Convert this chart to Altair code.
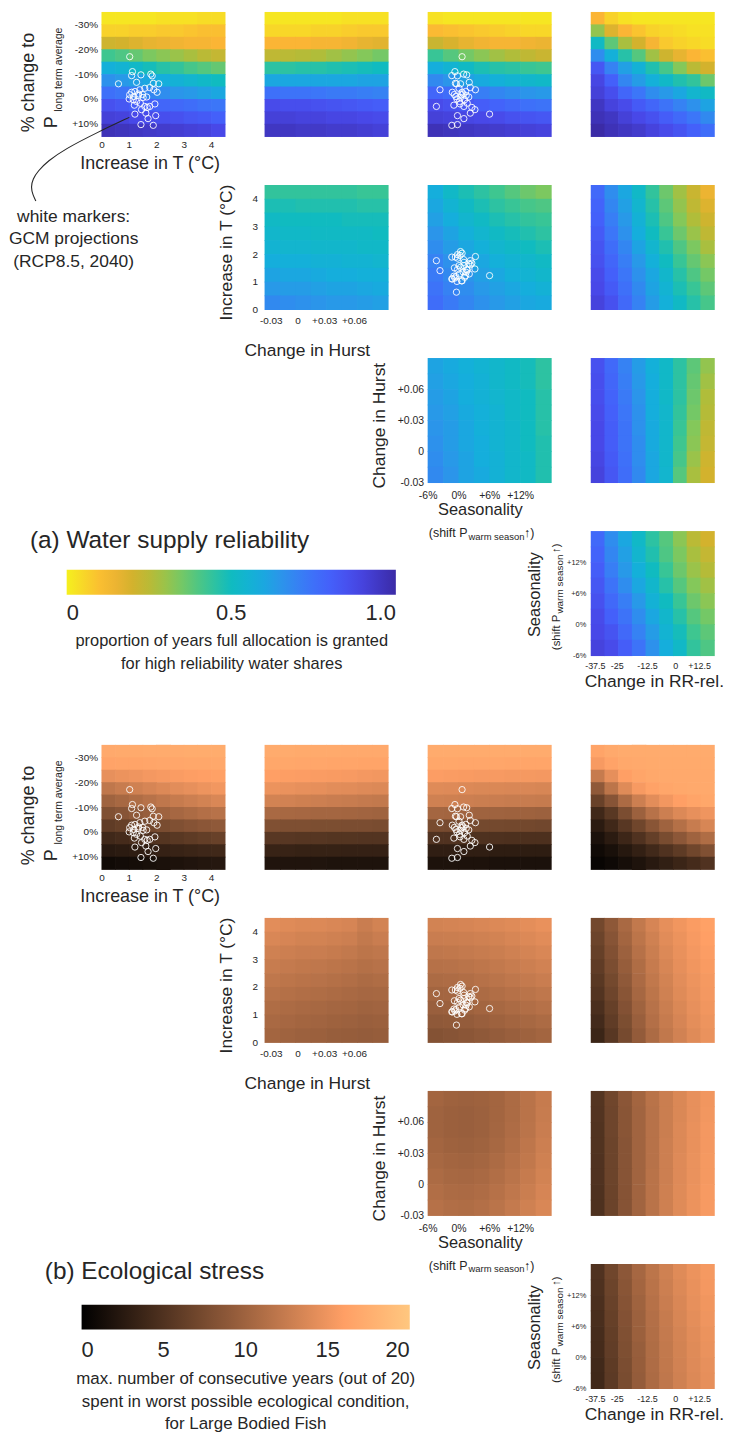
import json
import altair as alt
import pandas as pd

FONT = "Liberation Sans"
INK = "#262626"

# ---------------- axes / categories ----------------
T_EDGES = [0, 0.5, 1, 1.5, 2, 2.5, 3, 3.5, 4, 4.5]
T_EDGES_DOWN = [4.5, 4, 3.5, 3, 2.5, 2, 1.5, 1, 0.5, 0]
P_EDGES = [-35, -30, -25, -20, -15, -10, -5, 0, 5, 10, 15]
H_EDGES = [-0.03, -0.015, 0, 0.015, 0.03, 0.045, 0.06, 0.075, 0.09]
H_EDGES_DOWN = [0.09, 0.075, 0.06, 0.045, 0.03, 0.015, 0, -0.015, -0.03]
S_EDGES = [-6, -3, 0, 3, 6, 9, 12, 15, 18]
S_EDGES_DOWN = [18, 15, 12, 9, 6, 3, 0, -3, -6]
RR_EDGES = [0, 1, 2, 3, 4, 5, 6, 7, 8, 9]

T_TICKS = [0, 1, 2, 3, 4]
P_TICKS = [-30, -20, -10, 0, 10]
P_TICK_LABELS = ["-30%", "-20%", "-10%", "0%", "+10%"]
H_TICKS = [-0.03, 0, 0.03, 0.06]
H_TICKS_X = [-0.024, 0.002, 0.028, 0.057]
H_TICK_LABELS = ["-0.03", "0", "+0.03", "+0.06"]
S_TICKS = [-6, 0, 6, 12]
S_TICK_LABELS = ["-6%", "0%", "+6%", "+12%"]
RR_TICK_POS = [0.3, 1.9, 4.1, 6.17, 7.91]
RR_TICK_LABELS = ["-37.5", "-25", "-12.5", "0", "+12.5"]

# ---------------- colour maps ----------------
REL_STOPS = [0, 0.04, 0.12, 0.2, 0.27, 0.33, 0.42, 0.5, 0.58, 0.65, 0.73, 0.8, 0.88, 1.0]
REL_COLORS = ["#F5F01E", "#F7DC26", "#FBB535", "#D3B22D", "#B0BD3A", "#84C85A", "#3EC690",
              "#10BBC0", "#15AEDC", "#2B95EA", "#3C76F8", "#4460FA", "#4848E8", "#3B2BA6"]
ECO_STOPS = [0, 16, 20]
ECO_COLORS = ["#000000", "#FF9F65", "#FFC77F"]

# ---------------- GCM projections ----------------
GCM_T = [1.03, 1.13, 1.10, 1.44, 1.85, 1.80, 0.62, 1.28, 1.89, 2.09, 1.10, 1.22, 1.40, 1.58, 1.76,
         1.91, 2.03, 1.03, 1.18, 1.34, 1.52, 1.01, 1.16, 1.28, 1.42, 1.58, 1.67, 1.76, 1.46, 1.62,
         1.22, 1.98, 1.70, 1.44, 1.89, 1.35, 1.50, 1.65, 1.95, 1.20]
GCM_P = [-17, -11, -9.4, -9.7, -9.3, -10, -6.1, -6.7, -6.3, -6.1, -2.7, -3.0, -3.7, -4.3, -4.6,
         -3.7, -2.7, -1.7, -1.0, -1.4, -0.6, 0.0, 0.3, 1.0, 1.7, 3.0, 3.4, 3.0, 4.3, 5.7,
         6.1, 6.7, 7.9, 10.3, 10.6, -2.0, -1.8, -0.8, 2.0, 2.5]
GCM_S = [0.7, -0.7, -1.3, 1.6, -0.2, 1.0, -0.4, 2.1, -0.6, 0.4, -1.2, 1.4, -3.6, 0.1, 2.3,
         3.3, 0.7, 0.6, -0.5, 1.5, 0.4, -0.3, 1.2, 0.2, 1.7, 1.05, 2.6, -4.3, 3.2, 2.3,
         6.05, -0.2, 1.05, -0.2, -1.3, 0.9, -0.8, 2.0, 0.3, -0.9]

# leader line from the annotation to the markers (in T / P units of the first panel)
LEADER_T = [1.016, -0.145, -1.343, -1.959, -2.322, -2.504, -2.576, -2.504, -2.395]
LEADER_P = [7.4, 13.4, 20.2, 25.0, 29.0, 32.2, 35.4, 38.6, 41.0]

# ---------------- (a) water supply reliability grids (rows top -> bottom) ----------------
A_TP = [
    [0.02, 0.02, 0.02, 0.02, 0.03, 0.03, 0.03, 0.04, 0.04],
    [0.06, 0.06, 0.07, 0.07, 0.08, 0.08, 0.09, 0.10, 0.10],
    [0.21, 0.20, 0.18, 0.16, 0.15, 0.14, 0.13, 0.13, 0.12],
    [0.42, 0.40, 0.37, 0.34, 0.32, 0.30, 0.28, 0.25, 0.23],
    [0.57, 0.55, 0.52, 0.49, 0.46, 0.44, 0.41, 0.39, 0.37],
    [0.66, 0.64, 0.62, 0.60, 0.58, 0.56, 0.54, 0.52, 0.50],
    [0.75, 0.73, 0.71, 0.69, 0.67, 0.65, 0.64, 0.62, 0.60],
    [0.85, 0.83, 0.81, 0.80, 0.78, 0.77, 0.76, 0.74, 0.73],
    [0.91, 0.90, 0.88, 0.87, 0.86, 0.85, 0.83, 0.82, 0.80],
    [0.97, 0.96, 0.95, 0.94, 0.93, 0.92, 0.91, 0.90, 0.88],
]
A_HP = [
    [0.02, 0.02, 0.02, 0.02, 0.02, 0.03, 0.03, 0.03],
    [0.05, 0.05, 0.05, 0.06, 0.06, 0.07, 0.08, 0.08],
    [0.12, 0.12, 0.12, 0.13, 0.13, 0.14, 0.16, 0.17],
    [0.24, 0.25, 0.26, 0.27, 0.29, 0.31, 0.33, 0.35],
    [0.45, 0.45, 0.46, 0.46, 0.47, 0.48, 0.49, 0.50],
    [0.60, 0.60, 0.60, 0.60, 0.60, 0.60, 0.61, 0.61],
    [0.75, 0.74, 0.74, 0.73, 0.72, 0.72, 0.71, 0.70],
    [0.87, 0.86, 0.86, 0.85, 0.84, 0.83, 0.82, 0.81],
    [0.91, 0.91, 0.90, 0.90, 0.89, 0.89, 0.88, 0.87],
    [0.95, 0.95, 0.94, 0.94, 0.93, 0.93, 0.92, 0.91],
]
A_SP = [
    [0.03, 0.02, 0.02, 0.02, 0.02, 0.02, 0.02, 0.02],
    [0.11, 0.10, 0.09, 0.08, 0.07, 0.06, 0.05, 0.05],
    [0.22, 0.19, 0.16, 0.14, 0.13, 0.13, 0.14, 0.15],
    [0.43, 0.39, 0.35, 0.32, 0.29, 0.27, 0.24, 0.22],
    [0.58, 0.55, 0.51, 0.48, 0.46, 0.45, 0.43, 0.42],
    [0.68, 0.65, 0.62, 0.59, 0.57, 0.55, 0.53, 0.52],
    [0.78, 0.76, 0.73, 0.71, 0.69, 0.67, 0.65, 0.64],
    [0.87, 0.85, 0.83, 0.81, 0.79, 0.77, 0.75, 0.74],
    [0.91, 0.90, 0.89, 0.88, 0.87, 0.85, 0.84, 0.83],
    [0.97, 0.96, 0.95, 0.94, 0.93, 0.92, 0.91, 0.90],
]
A_RP = [
    [0.12, 0.06, 0.03, 0.02, 0.02, 0.02, 0.02, 0.02, 0.02],
    [0.31, 0.18, 0.12, 0.09, 0.06, 0.05, 0.04, 0.03, 0.03],
    [0.51, 0.38, 0.28, 0.20, 0.13, 0.08, 0.06, 0.05, 0.04],
    [0.67, 0.57, 0.46, 0.39, 0.29, 0.21, 0.16, 0.12, 0.10],
    [0.83, 0.70, 0.62, 0.56, 0.47, 0.41, 0.33, 0.25, 0.20],
    [0.89, 0.80, 0.69, 0.63, 0.57, 0.52, 0.47, 0.44, 0.36],
    [0.91, 0.86, 0.78, 0.73, 0.67, 0.64, 0.60, 0.54, 0.51],
    [0.95, 0.90, 0.87, 0.82, 0.78, 0.74, 0.70, 0.66, 0.61],
    [0.97, 0.95, 0.91, 0.88, 0.85, 0.81, 0.77, 0.73, 0.68],
    [1.00, 0.97, 0.95, 0.93, 0.90, 0.87, 0.84, 0.80, 0.76],
]
A_HT = [
    [0.44, 0.44, 0.44, 0.44, 0.44, 0.44, 0.43, 0.43],
    [0.48, 0.48, 0.47, 0.47, 0.47, 0.47, 0.46, 0.46],
    [0.51, 0.50, 0.50, 0.50, 0.50, 0.49, 0.49, 0.49],
    [0.53, 0.52, 0.52, 0.51, 0.51, 0.51, 0.51, 0.50],
    [0.55, 0.54, 0.54, 0.53, 0.53, 0.53, 0.52, 0.52],
    [0.58, 0.57, 0.57, 0.56, 0.56, 0.55, 0.55, 0.54],
    [0.61, 0.60, 0.60, 0.59, 0.58, 0.58, 0.57, 0.57],
    [0.64, 0.63, 0.63, 0.62, 0.61, 0.61, 0.60, 0.59],
    [0.68, 0.67, 0.66, 0.65, 0.64, 0.64, 0.63, 0.62],
]
A_ST = [
    [0.58, 0.52, 0.48, 0.45, 0.42, 0.39, 0.36, 0.34],
    [0.60, 0.55, 0.51, 0.48, 0.45, 0.43, 0.41, 0.40],
    [0.62, 0.58, 0.54, 0.51, 0.48, 0.46, 0.44, 0.43],
    [0.65, 0.61, 0.57, 0.54, 0.51, 0.49, 0.47, 0.45],
    [0.67, 0.63, 0.60, 0.57, 0.54, 0.52, 0.50, 0.48],
    [0.70, 0.66, 0.63, 0.60, 0.57, 0.55, 0.53, 0.51],
    [0.72, 0.68, 0.65, 0.62, 0.60, 0.57, 0.55, 0.53],
    [0.74, 0.70, 0.67, 0.64, 0.62, 0.60, 0.58, 0.56],
    [0.76, 0.72, 0.69, 0.66, 0.64, 0.62, 0.60, 0.59],
]
A_RT = [
    [0.77, 0.67, 0.60, 0.52, 0.44, 0.36, 0.29, 0.22, 0.15],
    [0.79, 0.69, 0.62, 0.54, 0.46, 0.38, 0.31, 0.24, 0.18],
    [0.80, 0.71, 0.64, 0.56, 0.48, 0.40, 0.33, 0.27, 0.21],
    [0.82, 0.73, 0.66, 0.58, 0.50, 0.43, 0.36, 0.30, 0.24],
    [0.84, 0.76, 0.69, 0.61, 0.54, 0.47, 0.40, 0.34, 0.28],
    [0.85, 0.78, 0.71, 0.64, 0.57, 0.50, 0.43, 0.37, 0.32],
    [0.87, 0.80, 0.73, 0.66, 0.60, 0.53, 0.46, 0.40, 0.35],
    [0.88, 0.82, 0.75, 0.68, 0.61, 0.55, 0.48, 0.43, 0.38],
    [0.90, 0.85, 0.77, 0.70, 0.63, 0.57, 0.51, 0.46, 0.41],
]
A_SH = [
    [0.61, 0.59, 0.57, 0.55, 0.53, 0.51, 0.49, 0.45],
    [0.62, 0.60, 0.58, 0.56, 0.53, 0.51, 0.49, 0.45],
    [0.63, 0.61, 0.58, 0.56, 0.54, 0.52, 0.50, 0.46],
    [0.64, 0.62, 0.59, 0.57, 0.55, 0.52, 0.50, 0.46],
    [0.65, 0.63, 0.60, 0.57, 0.55, 0.53, 0.50, 0.46],
    [0.66, 0.63, 0.60, 0.58, 0.55, 0.53, 0.50, 0.47],
    [0.67, 0.64, 0.61, 0.58, 0.56, 0.53, 0.51, 0.47],
    [0.68, 0.65, 0.61, 0.59, 0.56, 0.53, 0.51, 0.47],
]
A_RH = [
    [0.85, 0.77, 0.70, 0.63, 0.57, 0.52, 0.45, 0.38, 0.31],
    [0.86, 0.78, 0.71, 0.64, 0.58, 0.52, 0.45, 0.37, 0.29],
    [0.86, 0.79, 0.72, 0.65, 0.58, 0.52, 0.45, 0.36, 0.27],
    [0.87, 0.80, 0.73, 0.66, 0.58, 0.53, 0.44, 0.35, 0.26],
    [0.88, 0.81, 0.74, 0.66, 0.59, 0.53, 0.43, 0.33, 0.24],
    [0.88, 0.81, 0.74, 0.67, 0.59, 0.53, 0.42, 0.32, 0.23],
    [0.89, 0.82, 0.75, 0.67, 0.60, 0.53, 0.41, 0.30, 0.21],
    [0.90, 0.83, 0.76, 0.68, 0.60, 0.54, 0.39, 0.28, 0.20],
]
A_RS = [
    [0.77, 0.67, 0.60, 0.52, 0.45, 0.39, 0.32, 0.25, 0.20],
    [0.79, 0.69, 0.62, 0.54, 0.47, 0.40, 0.34, 0.28, 0.23],
    [0.81, 0.71, 0.64, 0.57, 0.50, 0.43, 0.36, 0.30, 0.26],
    [0.83, 0.74, 0.67, 0.60, 0.53, 0.46, 0.39, 0.33, 0.29],
    [0.85, 0.77, 0.71, 0.64, 0.56, 0.50, 0.43, 0.36, 0.32],
    [0.87, 0.80, 0.74, 0.67, 0.60, 0.53, 0.46, 0.39, 0.35],
    [0.88, 0.84, 0.77, 0.70, 0.63, 0.55, 0.49, 0.42, 0.38],
    [0.90, 0.87, 0.81, 0.74, 0.66, 0.58, 0.52, 0.44, 0.40],
]

# ---------------- (b) ecological stress grids ----------------
B_TP = [
    [17.0, 17.1, 17.1, 17.2, 17.2, 17.2, 17.3, 17.3, 17.3],
    [16.4, 16.5, 16.5, 16.6, 16.7, 16.7, 16.8, 16.8, 16.9],
    [14.5, 14.8, 15.0, 15.3, 15.5, 15.7, 15.9, 16.0, 16.2],
    [12.0, 12.5, 13.0, 13.4, 13.8, 14.2, 14.5, 14.9, 15.2],
    [10.0, 10.5, 11.0, 11.5, 12.0, 12.4, 12.8, 13.2, 13.6],
    [8.0, 8.5, 9.0, 9.5, 10.0, 10.4, 10.8, 11.2, 11.5],
    [6.0, 6.4, 6.8, 7.2, 7.6, 8.0, 8.4, 8.7, 9.0],
    [4.0, 4.3, 4.6, 5.0, 5.3, 5.6, 5.9, 6.2, 6.5],
    [2.5, 2.7, 2.9, 3.1, 3.3, 3.5, 3.7, 3.9, 4.0],
    [1.0, 1.2, 1.3, 1.5, 1.7, 1.8, 2.0, 2.2, 2.3],
]
B_HP = [
    [17.2, 17.2, 17.1, 17.1, 17.1, 17.0, 17.0, 17.0],
    [16.8, 16.8, 16.7, 16.7, 16.6, 16.6, 16.5, 16.5],
    [16.0, 15.9, 15.8, 15.7, 15.6, 15.5, 15.3, 15.2],
    [14.8, 14.7, 14.5, 14.4, 14.2, 14.1, 13.9, 13.8],
    [13.2, 13.1, 12.9, 12.8, 12.6, 12.5, 12.3, 12.2],
    [10.6, 10.5, 10.4, 10.3, 10.3, 10.2, 10.1, 10.0],
    [8.0, 7.9, 7.9, 7.8, 7.8, 7.7, 7.7, 7.6],
    [5.5, 5.5, 5.4, 5.4, 5.3, 5.3, 5.2, 5.2],
    [3.5, 3.5, 3.4, 3.4, 3.4, 3.3, 3.3, 3.3],
    [2.0, 2.0, 2.0, 2.0, 1.9, 1.9, 1.9, 1.9],
]
B_SP = [
    [17.2, 17.2, 17.2, 17.2, 17.2, 17.2, 17.2, 17.2],
    [16.8, 16.8, 16.7, 16.7, 16.7, 16.6, 16.6, 16.6],
    [15.8, 15.7, 15.6, 15.5, 15.5, 15.4, 15.4, 15.3],
    [14.0, 13.9, 13.8, 13.7, 13.7, 13.6, 13.6, 13.5],
    [13.0, 12.9, 12.8, 12.7, 12.6, 12.5, 12.5, 12.4],
    [10.3, 10.2, 10.1, 10.0, 10.0, 9.9, 9.9, 9.8],
    [7.5, 7.4, 7.4, 7.3, 7.3, 7.2, 7.2, 7.1],
    [5.0, 5.0, 4.9, 4.9, 4.9, 4.8, 4.8, 4.8],
    [3.0, 3.0, 3.0, 3.0, 2.9, 2.9, 2.9, 2.9],
    [1.8, 1.8, 1.8, 1.8, 1.7, 1.7, 1.7, 1.7],
]
B_RP = [
    [16.5, 17.0, 17.2, 17.2, 17.2, 17.2, 17.2, 17.2, 17.2],
    [15.5, 16.4, 16.9, 17.0, 17.1, 17.1, 17.1, 17.1, 17.1],
    [12.4, 14.4, 16.0, 16.6, 16.9, 17.0, 17.0, 17.0, 17.0],
    [9.0, 11.8, 14.0, 15.5, 16.3, 16.7, 16.9, 17.0, 17.0],
    [6.5, 8.5, 10.8, 12.8, 14.2, 15.2, 16.0, 16.5, 16.8],
    [4.0, 5.6, 7.7, 9.8, 11.5, 12.8, 13.8, 14.5, 15.0],
    [2.7, 4.0, 5.5, 7.0, 8.6, 10.0, 11.3, 12.5, 13.5],
    [1.7, 2.7, 3.8, 5.0, 6.3, 7.6, 8.8, 10.0, 11.0],
    [1.0, 1.6, 2.4, 3.2, 4.1, 5.0, 5.9, 7.0, 8.0],
    [0.5, 0.9, 1.4, 1.9, 2.5, 3.1, 3.7, 4.3, 5.0],
]
B_HT = [
    [14.2, 14.0, 13.8, 13.8, 13.6, 13.4, 12.6, 13.2],
    [13.6, 13.4, 13.2, 13.2, 13.0, 12.8, 12.2, 12.6],
    [13.0, 12.8, 12.6, 12.6, 12.4, 12.2, 11.8, 12.0],
    [12.5, 12.3, 12.1, 12.0, 11.8, 11.6, 11.3, 11.5],
    [12.0, 11.8, 11.6, 11.5, 11.3, 11.1, 10.8, 11.0],
    [11.5, 11.3, 11.1, 11.0, 10.8, 10.6, 10.4, 10.5],
    [11.0, 10.8, 10.6, 10.5, 10.3, 10.2, 10.0, 10.1],
    [10.6, 10.4, 10.2, 10.1, 9.9, 9.8, 9.6, 9.7],
    [10.2, 10.0, 9.8, 9.7, 9.5, 9.4, 9.3, 9.4],
]
B_ST = [
    [13.2, 13.3, 13.4, 13.6, 13.8, 14.0, 14.3, 14.6],
    [12.6, 12.7, 12.8, 13.0, 13.2, 13.5, 13.8, 14.1],
    [12.0, 12.1, 12.3, 12.5, 12.7, 13.0, 13.3, 13.6],
    [11.4, 11.5, 11.7, 11.9, 12.2, 12.5, 12.8, 13.1],
    [10.8, 10.9, 11.1, 11.4, 11.7, 12.0, 12.3, 12.6],
    [10.2, 10.3, 10.5, 10.8, 11.1, 11.4, 11.7, 12.0],
    [9.6, 9.7, 9.9, 10.2, 10.5, 10.8, 11.1, 11.4],
    [9.0, 9.1, 9.3, 9.6, 9.9, 10.2, 10.5, 10.8],
    [8.3, 8.5, 8.7, 9.0, 9.3, 9.6, 9.9, 10.2],
]
B_RT = [
    [7.2, 8.9, 10.6, 12.2, 13.4, 14.4, 15.1, 15.7, 16.2],
    [6.8, 8.5, 10.2, 11.8, 13.0, 14.1, 14.8, 15.5, 16.0],
    [6.4, 8.1, 9.8, 11.4, 12.7, 13.8, 14.6, 15.3, 15.8],
    [6.0, 7.7, 9.4, 11.0, 12.4, 13.5, 14.4, 15.1, 15.6],
    [5.6, 7.3, 9.0, 10.7, 12.1, 13.2, 14.2, 14.9, 15.4],
    [5.2, 6.9, 8.6, 10.4, 11.8, 13.0, 14.0, 14.7, 15.3],
    [4.7, 6.4, 8.2, 10.0, 11.5, 12.7, 13.7, 14.5, 15.1],
    [4.2, 6.0, 7.8, 9.6, 11.2, 12.4, 13.4, 14.3, 14.9],
    [3.7, 5.5, 7.4, 9.2, 10.8, 12.1, 13.1, 14.0, 14.7],
]
B_SH = [
    [10.2, 9.9, 9.8, 9.9, 10.2, 10.8, 11.6, 12.4],
    [10.0, 9.7, 9.6, 9.8, 10.2, 10.8, 11.6, 12.5],
    [10.0, 9.7, 9.6, 9.8, 10.3, 10.9, 11.7, 12.6],
    [10.2, 9.9, 9.8, 10.0, 10.5, 11.1, 11.9, 12.8],
    [10.5, 10.2, 10.1, 10.3, 10.8, 11.4, 12.1, 13.0],
    [10.8, 10.5, 10.4, 10.6, 11.1, 11.7, 12.4, 13.2],
    [11.1, 10.8, 10.7, 10.9, 11.4, 12.0, 12.7, 13.4],
    [11.4, 11.1, 11.0, 11.2, 11.7, 12.3, 13.0, 13.6],
]
B_RH = [
    [5.3, 7.0, 8.7, 10.2, 11.6, 12.7, 13.7, 14.5, 15.1],
    [5.2, 6.9, 8.6, 10.1, 11.5, 12.7, 13.7, 14.5, 15.2],
    [5.1, 6.9, 8.6, 10.1, 11.5, 12.7, 13.8, 14.6, 15.3],
    [5.1, 6.8, 8.5, 10.1, 11.5, 12.8, 13.8, 14.6, 15.3],
    [5.0, 6.8, 8.5, 10.1, 11.5, 12.8, 13.9, 14.7, 15.4],
    [5.0, 6.8, 8.5, 10.1, 11.6, 12.8, 13.9, 14.7, 15.4],
    [4.9, 6.7, 8.4, 10.1, 11.6, 12.9, 14.0, 14.8, 15.5],
    [4.9, 6.7, 8.4, 10.1, 11.6, 12.9, 14.0, 14.8, 15.5],
]
B_RS = [
    [5.0, 7.0, 8.8, 10.4, 11.8, 13.0, 14.0, 14.8, 15.4],
    [4.9, 6.8, 8.6, 10.2, 11.6, 12.8, 13.8, 14.6, 15.3],
    [4.7, 6.6, 8.4, 10.0, 11.4, 12.6, 13.6, 14.5, 15.1],
    [4.6, 6.4, 8.2, 9.8, 11.2, 12.4, 13.5, 14.3, 15.0],
    [4.4, 6.2, 8.0, 9.7, 11.1, 12.3, 13.3, 14.1, 14.8],
    [4.3, 6.1, 7.9, 9.5, 11.0, 12.2, 13.2, 14.0, 14.7],
    [4.1, 5.9, 7.7, 9.4, 10.9, 12.1, 13.1, 13.9, 14.5],
    [4.0, 5.8, 7.6, 9.3, 10.8, 12.0, 13.0, 13.8, 14.4],
]

# ---------------- helpers ----------------
W = 124
H = 125
EXTRA = 41  # extra head-room above the first row of the lower block
TITLE = 17.5

GCM = pd.DataFrame({"T": GCM_T, "P": GCM_P, "S": GCM_S})
LEADER = pd.DataFrame({"T": LEADER_T, "P": LEADER_P, "k": list(range(len(LEADER_T)))})


def qs(dom, rev=False):
    return alt.Scale(domain=dom, nice=False, zero=False, reverse=rev)


def cscale(stops, colors):
    return alt.Scale(domain=stops, range=colors, interpolate="rgb")


def axis(values, labels, size=10, pad=4):
    expr = f"{json.dumps(labels)}[indexof({json.dumps(values)}, datum.value)]"
    return alt.Axis(values=values, labelExpr=expr, labelFontSize=size, labelPadding=pad,
                    labelFont=FONT, labelColor=INK, domain=False, ticks=False, grid=False,
                    labelFlush=False, labelOverlap=False, title=None)


def txt(s, x, y, size=TITLE, angle=0, align="center"):
    return alt.Chart(pd.DataFrame({"t": [s]})).mark_text(
        fontSize=size, angle=angle, align=align, baseline="middle", color=INK, font=FONT
    ).encode(text="t:N", x=alt.value(x), y=alt.value(y))


def cell_frame(grid, xe, ye, field):
    recs = []
    for i, row in enumerate(grid):
        for j, v in enumerate(row):
            recs.append({"x0": xe[j], "x1": xe[j + 1], "y0": ye[i], "y1": ye[i + 1], field: v})
    return pd.DataFrame(recs)


def panel(grid, xe, ye, xs, ys, field, cs, xaxis=None, yaxis=None, legend=None,
          pts=None, leader=False, extras=(), h=H):
    # small overlap (x2Offset / y2Offset) hides anti-aliasing seams between cells
    layers = [alt.Chart(cell_frame(grid, xe, ye, field)).mark_rect(x2Offset=0.7, y2Offset=0.7).encode(
        x=alt.X("x0:Q", scale=xs, axis=xaxis), x2="x1:Q",
        y=alt.Y("y0:Q", scale=ys, axis=yaxis), y2="y1:Q",
        color=alt.Color(f"{field}:Q", scale=cs, legend=legend),
    )]
    if leader:
        layers.append(alt.Chart(LEADER).mark_line(color=INK, strokeWidth=1.1, interpolate="basis").encode(
            x=alt.X("T:Q", scale=xs, axis=xaxis), y=alt.Y("P:Q", scale=ys, axis=yaxis),
            order="k:Q"))
    if pts is not None:
        fx, fy = pts
        layers.append(alt.Chart(GCM).mark_point(shape="circle", filled=False, color="white",
                                                size=40, strokeWidth=1, opacity=0.9).encode(
            x=alt.X(f"{fx}:Q", scale=xs, axis=xaxis), y=alt.Y(f"{fy}:Q", scale=ys, axis=yaxis)))
    layers += list(extras)
    return alt.layer(*layers).properties(width=W, height=h)


def blank(extras=()):
    base = alt.Chart(pd.DataFrame({"t": [""]})).mark_text().encode(text="t:N")
    return alt.layer(base, *extras).properties(width=W, height=H)


def sub_h(xj, y0):
    # "(shift P_warm season ↑)" written horizontally; xj = joint between "P" and subscript
    return [txt("(shift P", xj - 1, y0, 12.5, align="right"),
            txt("warm season", xj, y0 + 3.5, 9.5, align="left"),
            txt("↑)", xj + 56, y0, 12.5, align="left")]


def sub_v(x0, yj):
    # the same label rotated (reads bottom -> top); yj = joint between "P" and subscript
    return [txt("(shift P", x0, yj + 1, 11.5, angle=270, align="right"),
            txt("warm season", x0 + 3, yj, 10, angle=270, align="left"),
            txt("↑)", x0, yj - 61, 11.5, angle=270, align="left")]


def block(field, stops, colors, G, legend, top_extra, first_h):
    cs = cscale(stops, colors)
    ext = first_h - H
    p_dom = [-35 - ext / 2.5, 15]
    xT, yP = qs([0, 4.5]), qs(p_dom, True)
    xH, xS, xR = qs([-0.03, 0.09]), qs([-6, 18]), qs([0, 9])
    yT, yH, yS = qs([0, 4.5]), qs([-0.03, 0.09]), qs([-6, 18])

    ax_T = axis(T_TICKS, [str(v) for v in T_TICKS], 10, 3)
    ay_P = axis(P_TICKS, P_TICK_LABELS, 10, 4)
    ay_T = axis(T_TICKS, [str(v) for v in T_TICKS], 10, 7)
    ax_H = axis(H_TICKS_X, H_TICK_LABELS, 10, 6)
    ay_H = axis(H_TICKS, H_TICK_LABELS, 10.5, 4)
    ax_S = axis(S_TICKS, S_TICK_LABELS, 10.5, 8)
    ay_S = axis(S_TICKS, S_TICK_LABELS, 7.5, 5)
    ax_R = axis(RR_TICK_POS, RR_TICK_LABELS, 9, 6)

    c11 = panel(G["TP"], T_EDGES, P_EDGES, xT, yP, field, cs, ax_T, ay_P, legend=legend,
                pts=("T", "P"), leader=(field == "rel"), h=first_h, extras=[
                    txt("% change to", -73, 71 + ext, 18, 270),
                    txt("P", -50, 111 + ext, 18, 270),
                    txt("long term average", -43, 58 + ext, 10.5, 270),
                    txt("Increase in T (°C)", 49, 153 + ext, 18),
                ])
    c12 = panel(G["HP"], H_EDGES, P_EDGES, xH, yP, field, cs, h=first_h)
    c13 = panel(G["SP"], S_EDGES, P_EDGES, xS, yP, field, cs, pts=("S", "P"), h=first_h)
    c14 = panel(G["RP"], RR_EDGES, P_EDGES, xR, yP, field, cs, h=first_h)

    c22 = panel(G["HT"], H_EDGES, T_EDGES_DOWN, xH, yT, field, cs, ax_H, ay_T, extras=[
        txt("Increase in T (°C)", -38, 68, TITLE, 270),
        txt("Change in Hurst", 43, 167, TITLE),
    ])
    c23 = panel(G["ST"], S_EDGES, T_EDGES_DOWN, xS, yT, field, cs, pts=("S", "T"))
    c24 = panel(G["RT"], RR_EDGES, T_EDGES_DOWN, xR, yT, field, cs)

    c33 = panel(G["SH"], S_EDGES, H_EDGES_DOWN, xS, yH, field, cs, ax_S, ay_H, extras=[
        txt("Change in Hurst", -48, 68, TITLE, 270),
        txt("Seasonality", 53, 153, 16.5),
    ] + sub_h(41, 176))
    c34 = panel(G["RH"], RR_EDGES, H_EDGES_DOWN, xR, yH, field, cs)

    c44 = panel(G["RS"], RR_EDGES, S_EDGES_DOWN, xR, yS, field, cs, ax_R, ay_S, extras=[
        txt("Seasonality", -56, 64, 16.5, 270),
        txt("Change in RR-rel.", 64, 152, TITLE),
    ] + sub_v(-34, 83))

    return [c11, c12, c13, c14,
            blank(top_extra.get("r2", [])), c22, c23, c24,
            blank(), blank(), c33, c34,
            blank(top_extra.get("r4", [])), blank(), blank(), c44]


legend_a = alt.Legend(
    type="gradient", orient="none", legendX=-35, legendY=561, direction="horizontal",
    gradientLength=331, gradientThickness=25, gradientStrokeWidth=0,
    values=[0, 0.5, 1], labelExpr="datum.value == 1 ? '1.0' : datum.value == 0 ? '0' : '0.5'",
    labelFontSize=22, labelFont=FONT, labelColor=INK, labelAlign="center", labelOffset=8,
    labelLimit=200, labelOverlap=False,
    title=["proportion of years full allocation is granted", "for high reliability water shares"],
    titleOrient="bottom", titleAnchor="middle", titleFontSize=16.5, titleFont=FONT,
    titleFontWeight="normal", titleColor=INK, titleLineHeight=23, titlePadding=10,
    titleLimit=1000, padding=0,
)
legend_b = alt.Legend(
    type="gradient", orient="none", legendX=-26, legendY=604, direction="horizontal",
    gradientLength=330, gradientThickness=25, gradientStrokeWidth=0,
    values=[0, 5, 10, 15, 20], labelExpr="format(datum.value, 'd')",
    labelFontSize=22, labelFont=FONT, labelColor=INK, labelAlign="center", labelOffset=11,
    labelLimit=200, labelOverlap=False,
    title=["max. number of consecutive years (out of 20)",
           "spent in worst possible ecological condition,", "for Large Bodied Fish"],
    titleOrient="bottom", titleAnchor="middle", titleFontSize=17, titleFont=FONT,
    titleFontWeight="normal", titleColor=INK, titleLineHeight=22.5, titlePadding=10,
    titleLimit=1000, padding=0,
)

GA = {"TP": A_TP, "HP": A_HP, "SP": A_SP, "RP": A_RP, "HT": A_HT, "ST": A_ST, "RT": A_RT,
      "SH": A_SH, "RH": A_RH, "RS": A_RS}
GB = {"TP": B_TP, "HP": B_HP, "SP": B_SP, "RP": B_RP, "HT": B_HT, "ST": B_ST, "RT": B_RT,
      "SH": B_SH, "RH": B_RH, "RS": B_RS}

top = block("rel", REL_STOPS, REL_COLORS, GA, legend_a, {
    "r2": [txt("white markers:", -28, 32, 17.5), txt("GCM projections", -28, 54, 17.5),
           txt("(RCP8.5, 2040)", -28, 77, 17.5)],
    "r4": [txt("(a) Water supply reliability", -72, 10, 24.5, align="left")],
}, H)
bottom = block("eco", ECO_STOPS, ECO_COLORS, GB, legend_b, {
    "r4": [txt("(b) Ecological stress", -57, 8, 24.5, align="left")],
}, H + EXTRA)

chart = alt.concat(*(top + bottom), columns=4, spacing={"row": 49, "column": 40},
                   bounds="flush").resolve_scale(
    x="independent", y="independent", color="independent"
).properties(padding=0).configure(font=FONT).configure_view(strokeWidth=0)

chart.save("out.html", embed_options={"renderer": "svg", "actions": False})
